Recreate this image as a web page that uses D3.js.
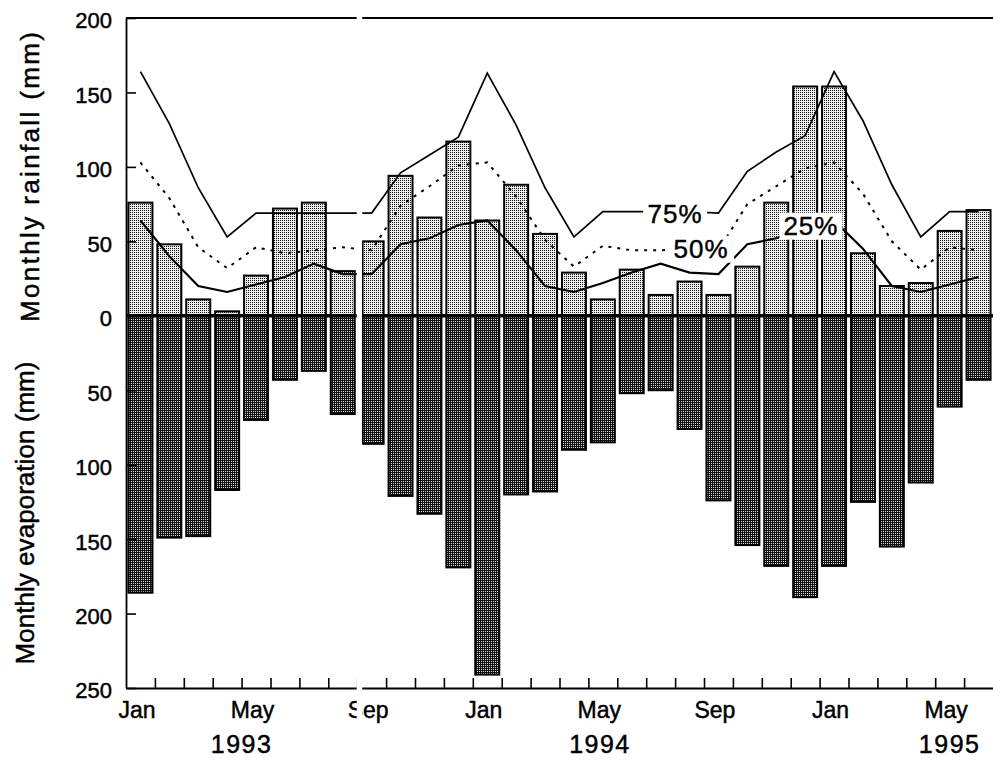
<!DOCTYPE html>
<html>
<head>
<meta charset="utf-8">
<script src="https://cdn.jsdelivr.net/npm/d3@7"></script>
<style>
  body { margin: 0; background: #fff; }
  svg { display: block; font-family: "Liberation Sans", Arial, sans-serif; }
  text { fill: #000; stroke: #000; stroke-width: 0.45px; }
</style>
</head>
<body>
<svg id="chart" width="993" height="760"></svg>
<script>
// months Jan 1993 .. Jun 1995
const monthNames = ['Jan', 'Feb', 'Mar', 'Apr', 'May', 'Jun', 'Jul', 'Aug', 'Sep', 'Oct', 'Nov', 'Dec'];

const rainfall = [
    76, 48, 11, 3, 27, 72, 76, 30, 50, 94, 66, 117,
    64, 88, 55, 29, 11, 31, 14, 23, 14, 33, 76, 154,
    154, 42, 20, 22, 57, 71
];
const evaporation = [
    186, 149, 148, 117, 70, 43, 37, 66, 86, 121, 133, 169,
    241, 120, 118, 90, 85, 52, 50, 76, 124, 154, 168, 189,
    168, 125, 155, 112, 61, 43
];
// rainfall percentiles
const p75 = [
    164, 129, 86, 53, 69, 69, 69, 69, 69, 96, 108, 120,
    163, 128, 86, 53, 70, 70, 70, 70, 69, 97, 110, 121,
    164, 131, 88, 53, 70, 70
];
const p50 = [
    103, 79, 46, 32, 46, 42, 44, 46, 44, 74, 87, 101,
    103, 80, 51, 33, 47, 44, 44, 45, 44, 75, 87, 99,
    103, 82, 50, 31, 46, 44
];
const p25 = [
    64, 40, 20, 16, 21, 26, 35, 28, 28, 48, 52, 61,
    64, 44, 20, 16, 22, 29, 35, 29, 28, 48, 52, 61,
    64, 45, 20, 16, 21, 26
];

const rainTicks = [0, 50, 100, 150, 200];
const evapTicks = [50, 100, 150, 200, 250];
const monthLabelIdx = [0, 4, 8, 12, 16, 20, 24, 28];
const yearLabels = [
    { label: '1993', at: 4.0 },
    { label: '1994', at: 16.4 },
    { label: '1995', at: 28.5 }
];
const lineLabels = [
    { label: '75%', at: 19.0, value: 69, w: 64 },
    { label: '50%', at: 19.9, value: 45, w: 66 },
    { label: '25%', at: 23.7, value: 60.5, w: 63 }
];

const svg = d3.select('#chart');
const nMonths = rainfall.length;

const x = d3.scaleBand()
    .domain(d3.range(nMonths))
    .range([126, 993])
    .paddingInner(0.17)
    .paddingOuter(0.085);
const xm = d3.scaleLinear().domain([0, nMonths]).range([126, 993]);
const y = d3.scaleLinear().domain([-250, 200]).range([688, 18]);

// stipple patterns
const defs = svg.append('defs');
const light = defs.append('pattern').attr('id', 'light')
    .attr('patternUnits', 'userSpaceOnUse').attr('width', 2).attr('height', 2);
light.append('rect').attr('width', 2).attr('height', 2).attr('fill', '#eee');
light.append('rect').attr('width', 1).attr('height', 1).attr('fill', '#111');
const dark = defs.append('pattern').attr('id', 'dark')
    .attr('patternUnits', 'userSpaceOnUse').attr('width', 2).attr('height', 2);
dark.append('rect').attr('width', 2).attr('height', 2).attr('fill', '#111');
dark.append('rect').attr('x', 1).attr('y', 1).attr('width', 1).attr('height', 1).attr('fill', '#ddd');

// bars
svg.append('g').selectAll('rect')
    .data(rainfall)
    .join('rect')
    .attr('x', (d, i) => x(i))
    .attr('y', d => y(d))
    .attr('width', x.bandwidth())
    .attr('height', d => y(0) - y(d))
    .attr('fill', 'url(#light)')
    .attr('stroke', '#000')
    .attr('stroke-width', 2);

svg.append('g').selectAll('rect')
    .data(evaporation)
    .join('rect')
    .attr('x', (d, i) => x(i))
    .attr('y', y(0))
    .attr('width', x.bandwidth())
    .attr('height', d => y(-d) - y(0))
    .attr('fill', 'url(#dark)')
    .attr('stroke', '#000')
    .attr('stroke-width', 2);

// zero line
svg.append('line')
    .attr('x1', xm(0)).attr('x2', xm(nMonths))
    .attr('y1', y(0)).attr('y2', y(0))
    .attr('stroke', '#000').attr('stroke-width', 3.5);

// percentile lines
const line = d3.line()
    .x((d, i) => x(i) + x.bandwidth() / 2)
    .y(d => y(d));

svg.append('path').datum(p75)
    .attr('fill', 'none').attr('stroke', '#000').attr('stroke-width', 1.7)
    .attr('d', line);
svg.append('path').datum(p50)
    .attr('fill', 'none').attr('stroke', '#000').attr('stroke-width', 2)
    .attr('stroke-dasharray', '3,6')
    .attr('d', line);
svg.append('path').datum(p25)
    .attr('fill', 'none').attr('stroke', '#000').attr('stroke-width', 2.1)
    .attr('d', line);

// line labels with white boxes
const lab = svg.append('g').selectAll('g')
    .data(lineLabels)
    .join('g')
    .attr('transform', d => `translate(${xm(d.at)},${y(d.value)})`);
lab.append('rect')
    .attr('x', d => -d.w / 2).attr('y', -13)
    .attr('width', d => d.w).attr('height', 27)
    .attr('fill', '#fff');
lab.append('text')
    .attr('text-anchor', 'middle')
    .attr('y', 9.5)
    .attr('font-size', 26)
    .attr('letter-spacing', 1)
    .text(d => d.label);

// top border
svg.append('line')
    .attr('x1', xm(0)).attr('x2', xm(nMonths))
    .attr('y1', y(200)).attr('y2', y(200))
    .attr('stroke', '#000').attr('stroke-width', 2);

// y axis
const yAxis = svg.append('g')
    .attr('transform', `translate(${xm(0)},0)`)
    .call(d3.axisLeft(y)
        .tickValues(evapTicks.map(v => -v).concat(rainTicks))
        .tickSize(-10)
        .tickSizeOuter(0)
        .tickPadding(14)
        .tickFormat(d => Math.abs(d)));
yAxis.select('.domain').attr('stroke-width', 1.8);
yAxis.selectAll('.tick line').attr('stroke-width', 1.6);
yAxis.selectAll('.tick text')
    .attr('font-size', 22)
    .attr('font-family', '"Liberation Sans", Arial, sans-serif')
    .attr('dy', '0.45em');

// x axis
const xAxis = svg.append('g')
    .attr('transform', `translate(0,${y(-250)})`)
    .call(d3.axisBottom(xm)
        .tickValues(d3.range(1, nMonths))
        .tickSize(-10)
        .tickSizeOuter(0)
        .tickFormat(''));
xAxis.select('.domain').attr('stroke-width', 2);
xAxis.selectAll('.tick line').attr('stroke-width', 1.6);

svg.append('g').selectAll('text')
    .data(monthLabelIdx)
    .join('text')
    .attr('x', i => x(i) + x.bandwidth() / 2 - 3.5)
    .attr('y', 718)
    .attr('text-anchor', 'middle')
    .attr('font-size', 23)
    .text(i => monthNames[i % 12]);

svg.append('g').selectAll('text')
    .data(yearLabels)
    .join('text')
    .attr('x', d => xm(d.at))
    .attr('y', 753)
    .attr('text-anchor', 'middle')
    .attr('font-size', 25)
    .attr('letter-spacing', 1.5)
    .text(d => d.label);

// axis titles
svg.append('text')
    .attr('transform', 'translate(39,177) rotate(-90)')
    .attr('text-anchor', 'middle')
    .attr('font-size', 26)
    .attr('textLength', 290)
    .attr('lengthAdjust', 'spacing')
    .text('Monthly rainfall (mm)');
svg.append('text')
    .attr('transform', 'translate(34,513) rotate(-90)')
    .attr('text-anchor', 'middle')
    .attr('font-size', 26)
    .attr('textLength', 303)
    .attr('lengthAdjust', 'spacing')
    .text('Monthly evaporation (mm)');

// axis break between Aug and Sep 1993
const brk = xm(8);
svg.append('rect')
    .attr('x', brk - 0.5).attr('y', 0)
    .attr('width', 5.5).attr('height', 726)
    .attr('fill', '#fff');
svg.append('line')
    .attr('x1', brk + 5.6).attr('x2', brk + 5.6)
    .attr('y1', y(rainfall[8])).attr('y2', y(-evaporation[8]))
    .attr('stroke', '#000').attr('stroke-width', 1.5);
</script>
</body>
</html>
